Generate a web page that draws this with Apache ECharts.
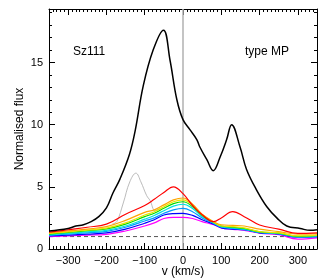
<!DOCTYPE html>
<html><head><meta charset="utf-8">
<script src="https://cdn.jsdelivr.net/npm/echarts@6/dist/echarts.min.js"></script>
<style>html,body{margin:0;padding:0;background:#fff}#c{width:327px;height:280px}</style>
</head><body><div id="c"></div>
<script>
// ---- data ----
const xTickLabels = [-300, -200, -100, 0, 100, 200, 300];
const yTickLabels = [0, 5, 10, 15];

const blackX = [-350,-300,-280,-260,-240,-220,-200,-183,-165,-140,-125,-104,-78,-51,-34,-16,0,18,36,44,62,79,97,114,127,149,166,193,219,245,271,306,332,350];
const blackY = [1.45,1.65,1.85,1.95,2.2,2.6,3.3,4.5,5.6,7.6,9.5,13.1,16.0,17.6,15.2,12.0,10.4,9.6,8.8,8.2,7.2,6.3,7.4,8.8,10.0,8.2,6.4,4.7,3.4,2.5,1.85,1.65,1.5,1.55];

const greyX = [-185,-173,-156,-139,-123,-110,-95,-86,-73,-60];
const greyY = [2.0,2.2,3.7,5.4,6.1,5.4,4.3,3.9,3.1,3.3];

const colX = [-350,-300,-250,-200,-150,-100,-75,-50,-25,0,25,50,80,100,130,160,200,250,300,350];
const redY     = [1.35,1.55,1.75,2.0,2.8,3.5,4.0,4.55,5.0,4.45,3.5,2.75,2.2,2.5,3.0,2.6,1.93,1.6,1.25,1.3];
const orangeY  = [1.3,1.45,1.6,1.8,2.3,2.95,3.15,3.55,3.95,4.1,3.6,2.8,2.2,1.95,1.9,1.85,1.6,1.4,1.2,1.22];
const yellowY  = [1.25,1.38,1.52,1.68,2.1,2.73,3.0,3.4,3.8,3.95,3.5,2.75,2.15,1.85,1.8,1.7,1.4,1.3,1.05,1.1];
const greenY   = [1.2,1.33,1.47,1.62,2.0,2.6,2.88,3.27,3.65,3.8,3.4,2.7,2.15,1.85,1.75,1.65,1.38,1.28,1.02,1.1];
const cyanY    = [1.15,1.25,1.38,1.5,1.85,2.4,2.7,3.08,3.45,3.6,3.25,2.6,2.1,1.8,1.7,1.6,1.35,1.25,1.0,1.05];
const skyY     = [1.1,1.2,1.3,1.42,1.75,2.25,2.5,2.87,3.15,3.27,3.0,2.5,2.05,1.75,1.65,1.55,1.33,1.22,0.95,1.0];
const blueY    = [1.05,1.12,1.2,1.3,1.6,2.07,2.35,2.73,2.85,2.87,2.7,2.35,2.0,1.7,1.6,1.55,1.3,1.2,0.95,1.0];
const magentaY = [1.0,1.05,1.12,1.18,1.45,1.85,2.1,2.45,2.55,2.55,2.45,2.2,1.95,1.7,1.58,1.5,1.28,1.15,0.8,0.9];

const colourNames = ['red','orange','yellow','green','cyan','sky','blue','magenta'];
const colourSeries = [redY, orangeY, yellowY, greenY, cyanY, skyY, blueY, magentaY];
const colourHex = ['#ff0000','#ffa500','#e6e600','#00dd00','#00e0e0','#0099ff','#0000ff','#ff00ff'];

const baseline = 1;
const xRange = [-350, 350];
const yRange = [0, 19.3];

// ---- build ----
const zip = (xs, ys) => xs.map((x, i) => [x, ys[i]]);
const FONT = 'Liberation Sans';
const txt = { color: '#000', fontFamily: FONT, fontSize: 11 };

function axisPair(dim, pos, showLabels) {
  const isX = dim === 'x';
  const range = isX ? xRange : yRange;
  const minor = {
    type: 'value', position: pos, min: range[0], max: range[1],
    interval: isX ? 10 : 1,
    axisLine: { show: true, onZero: false, lineStyle: { color: '#000', width: 1 } },
    axisTick: { show: true, inside: true, length: 3, lineStyle: { color: '#000', width: 1 } },
    axisLabel: { show: false }, splitLine: { show: false }
  };
  const major = {
    type: 'value', position: pos, min: range[0], max: range[1],
    interval: isX ? 50 : 5,
    axisLine: { show: false, onZero: false },
    axisTick: { show: true, inside: true, length: 6, customValues: isX ? xTickLabels : yTickLabels, lineStyle: { color: '#000', width: 1 } },
    axisLabel: { show: showLabels, customValues: isX ? xTickLabels : yTickLabels, margin: 6,
      formatter: v => (v < 0 ? '\u2212' + Math.abs(v) : String(v)), ...txt },
    splitLine: { show: false }
  };
  if (showLabels) {
    major.name = isX ? 'v (km/s)' : 'Normalised flux';
    major.nameLocation = 'middle';
    major.nameGap = isX ? 17 : 23;
    major.nameMoveOverlap = false;
    major.nameTextStyle = { ...txt, fontSize: 12 };
  }
  return [minor, major];
}

const xAxes = [...axisPair('x', 'bottom', true), ...axisPair('x', 'top', false)];
const yAxes = [...axisPair('y', 'left', true), ...axisPair('y', 'right', false)];

const series = [];
series.push({ type: 'line', data: [[0, yRange[0]], [0, yRange[1]]], showSymbol: false, silent: true,
  lineStyle: { color: '#b0b0b0', width: 1.5 }, z: 1 });
series.push({ type: 'line', data: [[xRange[0], baseline], [xRange[1], baseline]], showSymbol: false, silent: true,
  lineStyle: { color: '#555', width: 1, type: [4, 3] }, z: 1 });
series.push({ type: 'line', data: zip(greyX, greyY), showSymbol: false, smooth: 0.4,
  lineStyle: { color: '#aaaaaa', width: 0.8 }, z: 2 });
colourSeries.forEach((ys, i) => {
  series.push({ name: colourNames[i], type: 'line', data: zip(colX, ys), showSymbol: false, smooth: 0.4,
    lineStyle: { color: colourHex[i], width: 1.2 }, z: 3 + (colourSeries.length - i) * 0.01 });
});
series.push({ type: 'line', data: zip(blackX, blackY), showSymbol: false, smooth: 0.4,
  lineStyle: { color: '#000', width: 1.5 }, z: 4 });

const chart = echarts.init(document.getElementById('c'), null, { renderer: 'canvas' });
chart.setOption({
  animation: false,
  backgroundColor: '#fff',
  grid: { left: 49, right: 10, top: 9, bottom: 31, containLabel: false, outerBoundsMode: 'none' },
  xAxis: xAxes,
  yAxis: yAxes,
  series: series,
  graphic: [
    { type: 'text', left: 73, top: 46, style: { text: 'Sz111', fill: '#000', font: '12px "Liberation Sans"' } },
    { type: 'text', left: 245, top: 46, style: { text: 'type MP', fill: '#000', font: '12px "Liberation Sans"' } }
  ]
});
</script></body></html>
